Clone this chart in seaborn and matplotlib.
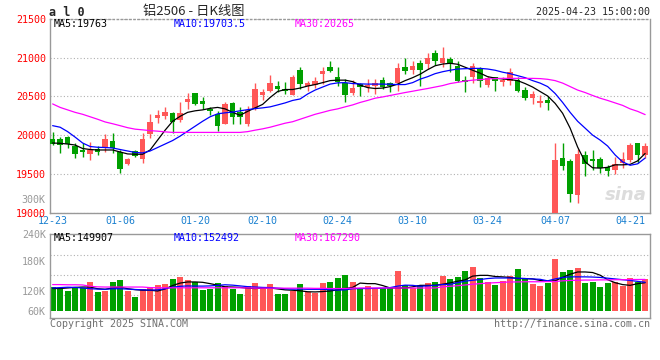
import numpy as np
import pandas as pd
import matplotlib
matplotlib.use("Agg")
import matplotlib.pyplot as plt
import seaborn as sns

# --- data (al 2506) ---
opens = [19949, 19949, 19978, 19863, 19808, 19761, 19817, 19846, 19923, 19786,
         19625, 19795, 19693, 20009, 20221, 20247, 20285, 20192, 20426, 20547,
         20435, 20333, 20278, 20141, 20418, 20294, 20141, 20346, 20512, 20576,
         20640, 20598, 20521, 20845, 20640, 20653, 20790, 20874, 20755, 20674,
         20541, 20662, 20618, 20640, 20713, 20669, 20669, 20874, 20841, 20931,
         20925, 21059, 20931, 20982, 20896, 20713, 20746, 20867, 20653, 20755,
         20691, 20704, 20713, 20585, 20477, 20416, 20457, 18900, 19706, 19667,
         19232, 19744, 19693, 19696, 19590, 19548, 19645, 19680, 19894, 19744]
closes = [19889, 19872, 19881, 19753, 19782, 19808, 19779, 19949, 19830, 19561,
          19689, 19731, 19949, 20166, 20260, 20294, 20170, 20291, 20470, 20406,
          20397, 20307, 20119, 20401, 20234, 20230, 20329, 20598, 20554, 20678,
          20602, 20567, 20746, 20662, 20669, 20704, 20832, 20823, 20691, 20521,
          20611, 20618, 20649, 20669, 20618, 20640, 20867, 20823, 20896, 20845,
          21002, 20960, 21002, 20918, 20704, 20682, 20896, 20704, 20739, 20695,
          20717, 20819, 20567, 20477, 20525, 20435, 20410, 19680, 19603, 19245,
          19757, 19629, 19671, 19574, 19530, 19633, 19697, 19866, 19738, 19859]
highs = [20045, 19971, 19987, 19894, 19894, 19906, 19859, 20009, 20022, 19808,
         19702, 19808, 20022, 20278, 20320, 20362, 20298, 20426, 20541, 20547,
         20490, 20362, 20307, 20426, 20426, 20362, 20371, 20678, 20598, 20781,
         20695, 20691, 20781, 20883, 20695, 20746, 20874, 20960, 20874, 20726,
         20713, 20669, 20726, 20726, 20755, 20682, 20938, 20995, 20951, 20969,
         21066, 21097, 21139, 21011, 20960, 20768, 20938, 20883, 20768, 20755,
         20746, 20867, 20755, 20627, 20576, 20512, 20506, 19898, 19901, 19689,
         19821, 19795, 19808, 19712, 19616, 19718, 19786, 19901, 19901, 19904]
lows = [19866, 19773, 19830, 19702, 19715, 19680, 19740, 19779, 19766, 19517,
        19612, 19715, 19638, 19958, 20157, 20214, 20029, 20170, 20342, 20384,
        20333, 20256, 20051, 20141, 20141, 20141, 20115, 20320, 20448, 20554,
        20554, 20525, 20512, 20598, 20576, 20611, 20662, 20810, 20640, 20426,
        20512, 20499, 20554, 20534, 20598, 20554, 20576, 20790, 20790, 20640,
        20854, 20905, 20874, 20810, 20682, 20563, 20669, 20627, 20627, 20576,
        20640, 20653, 20554, 20448, 20406, 20362, 20320, 18850, 19552, 19130,
        19117, 19475, 19552, 19517, 19466, 19501, 19578, 19654, 19635, 19699]

ma5 = [19898, 19894, 19885, 19872, 19827, 19814, 19808, 19808, 19808, 19782,
       19757, 19753, 19753, 19808, 19936, 20064, 20179, 20243, 20294, 20314,
       20326, 20346, 20358, 20339, 20294, 20256, 20307, 20352, 20397, 20486,
       20563, 20589, 20589, 20608, 20634, 20653, 20678, 20704, 20710, 20710,
       20691, 20646, 20614, 20602, 20608, 20627, 20659, 20704, 20742, 20787,
       20845, 20896, 20918, 20928, 20915, 20877, 20838, 20800, 20755, 20736,
       20726, 20717, 20704, 20666, 20621, 20563, 20506, 20410, 20282, 20090,
       19846, 19654, 19578, 19574, 19584, 19616, 19616, 19622, 19667, 19763]
ma10 = [20122, 20102, 20045, 19974, 19898, 19853, 19843, 19840, 19834, 19814,
        19795, 19776, 19770, 19795, 19840, 19885, 19930, 19987, 20051, 20115,
        20179, 20237, 20275, 20288, 20298, 20314, 20329, 20342, 20352, 20365,
        20390, 20416, 20448, 20467, 20531, 20582, 20621, 20659, 20675, 20678,
        20666, 20662, 20659, 20659, 20659, 20657, 20653, 20653, 20678, 20723,
        20755, 20794, 20819, 20838, 20854, 20858, 20862, 20862, 20854, 20838,
        20813, 20794, 20768, 20742, 20704, 20672, 20627, 20538, 20422, 20294,
        20179, 20090, 20000, 19936, 19859, 19744, 19654, 19610, 19629, 19703.5]
ma30 = [20403, 20358, 20326, 20294, 20269, 20237, 20205, 20170, 20147, 20122,
        20096, 20077, 20068, 20058, 20051, 20042, 20035, 20035, 20035, 20035,
        20035, 20035, 20035, 20035, 20035, 20035, 20045, 20064, 20081, 20102,
        20128, 20154, 20173, 20205, 20237, 20269, 20294, 20320, 20339, 20365,
        20390, 20422, 20448, 20477, 20493, 20512, 20531, 20550, 20567, 20585,
        20602, 20621, 20640, 20666, 20682, 20698, 20710, 20717, 20726, 20730,
        20733, 20733, 20733, 20733, 20733, 20730, 20721, 20704, 20672, 20627,
        20582, 20550, 20512, 20477, 20448, 20416, 20384, 20339, 20307, 20265]

# volume in thousands of lots
vol = [127, 122, 106, 124, 124, 154, 101, 106, 154, 163,
       106, 74, 119, 127, 136, 145, 168, 181, 163, 154,
       110, 115, 149, 133, 115, 88, 133, 149, 127, 142,
       88, 88, 106, 142, 101, 96, 149, 154, 175, 189,
       154, 124, 133, 124, 124, 122, 212, 136, 124, 140,
       149, 154, 184, 170, 181, 211, 234, 175, 154, 136,
       158, 186, 221, 177, 142, 133, 150, 274, 205, 216,
       228, 149, 154, 127, 149, 154, 133, 177, 154, 168]
vma5 = [119, 119, 122, 125, 127, 127, 118, 115, 122, 127,
        118, 113, 110, 110, 106, 117, 135, 148, 154, 154,
        152, 145, 137, 128, 127, 125, 121, 119, 121, 122,
        117, 112, 110, 107, 102, 101, 103, 106, 112, 119,
        125, 148, 145, 145, 135, 122, 122, 122, 128, 136,
        136, 136, 142, 149, 158, 165, 185, 189, 189, 183,
        181, 178, 172, 172, 170, 162, 158, 160, 178, 195,
        207, 207, 204, 190, 166, 150, 140, 136, 145, 149.907]
vma10 = [122, 124, 126, 125, 122, 118, 116, 115, 118, 118,
         116, 114, 112, 111, 112, 118, 126, 131, 133, 132,
         132, 133, 136, 139, 137, 133, 129, 127, 125, 124,
         121, 118, 116, 116, 115, 115, 115, 113, 111, 112,
         118, 119, 119, 120, 121, 124, 132, 137, 136, 131,
         133, 136, 140, 141, 150, 158, 163, 167, 172, 175,
         175, 175, 174, 172, 170, 168, 160, 170, 178, 181,
         181, 181, 180, 178, 174, 170, 166, 162, 157, 152.492]
vma30 = [140, 140, 139, 139, 138, 131, 128, 127, 127, 127,
         127, 127, 127, 124, 123, 123, 123, 123, 123, 123,
         123, 123, 123, 123, 123, 123, 122, 121, 121, 121,
         121, 121, 121, 121, 121, 120, 120, 119, 119, 119,
         121, 122, 122, 122, 122, 122, 122, 122, 122, 122,
         122, 122, 128, 131, 134, 138, 142, 145, 148, 150,
         152, 154, 154, 155, 155, 155, 156, 156, 160, 162,
         163, 164, 164, 165, 165, 166, 166, 167, 167, 167.29]

tick_idx = [0, 9, 19, 28, 38, 48, 58, 67, 77]
tick_labels = ["12-23", "01-06", "01-20", "02-10", "02-24", "03-10", "03-24", "04-07", "04-21"]
grid_idx = [9, 19, 28, 38, 48, 58, 67]
price_ticks = [19000, 19500, 20000, 20500, 21000, 21500]

RED, GREEN = "#ff5757", "#00a000"
GRID = dict(color="#b0b0b0", lw=0.8, ls=(0, (1, 2)))
MONO = 7.2

sns.set_style("white")
plt.rcParams["font.family"] = ["DejaVu Sans Mono", "Noto Sans CJK SC"]

o, c = np.array(opens), np.array(closes)
idx = np.arange(len(c))
up = c >= o
colors = np.where(up, RED, GREEN)

fig = plt.figure(figsize=(6.6, 3.6), dpi=100)
ax_p = fig.add_axes([50/660, 1 - 213.3/360, 600/660, 194.3/360])
ax_v = fig.add_axes([50/660, 1 - 318.3/360, 600/660, 84/360], sharex=ax_p)

# candles
ax_p.vlines(idx, lows, highs, colors=colors, lw=1, zorder=2)
ax_p.bar(idx, np.maximum(np.abs(c - o), 8), bottom=np.minimum(o, c),
         width=0.72, color=colors, lw=0, zorder=3)
sns.lineplot(x=idx, y=ma5, ax=ax_p, color="black", lw=0.9, zorder=4)
sns.lineplot(x=idx, y=ma10, ax=ax_p, color="#0000ff", lw=0.9, zorder=4)
sns.lineplot(x=idx, y=ma30, ax=ax_p, color="#ff00ff", lw=0.9, zorder=4)

# volume
df = pd.DataFrame({"i": idx, "vol": np.array(vol) * 1000,
                   "dir": np.where(up, "up", "down")})
sns.barplot(data=df, x="i", y="vol", hue="dir", palette={"up": RED, "down": GREEN},
            native_scale=True, width=0.8, dodge=False, errorbar=None,
            saturation=1, legend=False, linewidth=0, ax=ax_v, zorder=2)
sns.lineplot(x=idx, y=np.array(vma5) * 1000, ax=ax_v, color="black", lw=0.9, zorder=4)
sns.lineplot(x=idx, y=np.array(vma10) * 1000, ax=ax_v, color="#0000ff", lw=0.9, zorder=4)
sns.lineplot(x=idx, y=np.array(vma30) * 1000, ax=ax_v, color="#ff00ff", lw=0.9, zorder=4)

for ax in (ax_p, ax_v):
    ax.set_xlabel("")
    ax.set_ylabel("")
    ax.set_facecolor("white")
    for s in ax.spines.values():
        s.set_color("#999999")
        s.set_linewidth(1)
        s.set_visible(True)
    ax.set_axisbelow(True)
ax_p.spines["top"].set_linestyle((0, (1, 2)))

ax_p.set_xlim(-0.35, 79.65)
ax_p.set_xticks(tick_idx, tick_labels)
ax_p.set_xticks(grid_idx, minor=True)
ax_p.grid(which="minor", axis="x", **GRID)
ax_p.tick_params(axis="x", which="both", length=0, pad=2, labelsize=MONO, labelcolor="#1a80d0")

ax_p.set_ylim(18990, 21500)
ax_p.set_yticks(price_ticks, [str(t) for t in price_ticks])
ax_p.grid(which="major", axis="y", **GRID)
ax_p.tick_params(axis="y", length=0, pad=3, labelsize=MONO, labelcolor="#ff0000")
ax_p.text(-0.007, 0.068, "300K", transform=ax_p.transAxes, ha="right", va="center",
          color="#999999", fontsize=MONO)
ax_p.text(0.995, 0.05, "sina", transform=ax_p.transAxes, ha="right", va="bottom",
          color="#dcdcdc", fontsize=13, fontweight="bold", style="italic",
          family="DejaVu Sans", zorder=1)

ax_v.set_ylim(-39e3, 407e3)
ax_v.set_yticks([0, 107e3, 264e3, 407e3], ["60K", "120K", "180K", "240K"])
ax_v.set_yticks([83e3, 190e3, 296e3], minor=True)
ax_v.grid(which="minor", axis="y", **GRID)
ax_v.grid(which="minor", axis="x", **GRID)
ax_v.tick_params(axis="y", which="both", length=0, pad=3, labelsize=MONO, labelcolor="#999999")
ax_v.tick_params(axis="x", which="both", length=0, labelbottom=False)

# header / legend texts
fig.text(49/660, 1 - 12/360, "a l 0", fontsize=8.5, fontweight="bold", va="center")
fig.text(194/660, 1 - 12/360, "铝2506 - 日K线图", ha="center", va="center",
         fontsize=9.5, family=["Noto Sans CJK SC", "DejaVu Sans"])
fig.text(650/660, 1 - 12/360, "2025-04-23 15:00:00", ha="right", va="center", fontsize=MONO)

for y, vals in ((24, ("MA5:19763", "MA10:19703.5", "MA30:20265")),
                (238, ("MA5:149907", "MA10:152492", "MA30:167290"))):
    for x, txt, col in zip((54, 174, 295), vals, ("black", "#0000ff", "#ff00ff")):
        fig.text(x/660, 1 - y/360, txt, color=col, fontsize=MONO, va="center")

fig.text(50/660, 1 - 324/360, "Copyright 2025 SINA.COM", color="#707070", fontsize=MONO, va="center")
fig.text(650/660, 1 - 324/360, "http://finance.sina.com.cn", color="#707070",
         fontsize=MONO, va="center", ha="right")

fig.savefig("out.png", dpi=100)
plt.close(fig)
